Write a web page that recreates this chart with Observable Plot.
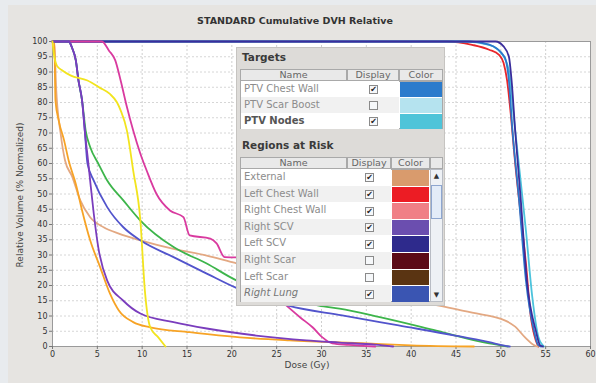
<!DOCTYPE html>
<html>
<head>
<meta charset="utf-8">
<script src="https://cdn.jsdelivr.net/npm/d3@7"></script>
<script src="https://cdn.jsdelivr.net/npm/@observablehq/plot@0.6"></script>
<style>
  html, body { margin: 0; padding: 0; background: #e8ebee; }
  #wrap { position: relative; width: 596px; height: 383px; overflow: hidden; font-family: "DejaVu Sans", sans-serif; }
  #panel { position: absolute; left: 8px; top: 5px; width: 588px; height: 378px; background: #e6e4e1; }
  #chart { position: absolute; left: 0; top: 0; }
  .abs { position: absolute; }
  #title { left: 195px; width: 200px; top: 15px; text-align: center; font-weight: bold; font-size: 9.5px; color: #333; white-space: nowrap; }
  #ylab { left: 20px; top: 195px; font-size: 9px; color: #444; white-space: nowrap; transform: translate(-50%, -50%) rotate(-90deg); }
  #xlab { left: 307px; top: 360px; font-size: 9px; color: #444; transform: translateX(-50%); white-space: nowrap; }
  #legend { left: 236px; top: 47px; width: 209px; height: 259px; background: #dddbd8; border: 1px solid #c6c4c1; box-sizing: border-box; }
  .sect { font-weight: bold; font-size: 10.5px; color: #3a3a3a; }
  .hdr { background: #e9e9e9; border: 1px solid #a9a9a9; box-sizing: border-box; font-size: 9.5px; color: #666; text-align: center; line-height: 10px; }
  .cell { box-sizing: border-box; font-size: 10px; color: #8c8c8c; white-space: nowrap; overflow: hidden; }
  .box { width: 9px; height: 9px; border: 1px solid #8a8a8a; background: #f6f8fa; box-sizing: border-box; font-size: 8px; line-height: 8px; text-align: center; color: #222; }
</style>
</head>
<body>
<div id="wrap">
  <div id="panel"></div>
  <div id="chart"></div>
  <div id="title" class="abs">STANDARD Cumulative DVH Relative</div>
  <div id="ylab" class="abs">Relative Volume (% Normalized)</div>
  <div id="xlab" class="abs">Dose (Gy)</div>
  <div id="legend" class="abs"></div>
</div>
<script>
// ---- tick labels ----
const xTicks = [0, 5, 10, 15, 20, 25, 30, 35, 40, 45, 50, 55, 60];
const yTicks = [0, 5, 10, 15, 20, 25, 30, 35, 40, 45, 50, 55, 60, 65, 70, 75, 80, 85, 90, 95, 100];

// ---- legend content ----
const targetNames = ["PTV Chest Wall", "PTV Scar Boost", "PTV Nodes"];
const targetShown = [true, false, true];
const targetColors = ["#2b7bcc", "#b5e3ef", "#4fc4d9"];
const riskNames = ["External", "Left Chest Wall", "Right Chest Wall", "Right SCV", "Left SCV", "Right Scar", "Left Scar", "Right Lung"];
const riskShown = [true, true, true, true, true, false, false, true];
const riskColors = ["#d99b6d", "#ec1c24", "#f07f86", "#6b4eaf", "#2e2a8c", "#5c0a16", "#5a3412", "#3a55b2"];

// ---- DVH curves (dose in Gy, volume in %) ----
const orangeDose = [0, 0.2, 0.33, 0.7, 1.3, 1.8, 2.6, 3.3, 4.2, 5.3, 6.4, 7.4, 9.0, 10.9, 15.3, 20.9, 26.4, 35, 40, 47];
const orangeVol  = [100, 100, 80.6, 74, 67.5, 61, 53.3, 44.6, 34.8, 26.1, 17.4, 11.8, 8.0, 6.3, 4.7, 3.0, 2.0, 1.0, 0.4, 0];

const tanDose = [0, 0.2, 0.4, 0.9, 1.4, 2.2, 3.1, 4.2, 5.7, 7.4, 9.8, 13.5, 17.2, 20.6, 25, 30, 35, 40, 43.1, 46.8, 50.5, 51.6, 52.7, 53.8, 54.1];
const tanVol  = [100, 100, 85, 70, 61, 55.7, 47.9, 42.4, 39.1, 37, 34.8, 32, 29.8, 27.2, 24.8, 22, 19, 15.3, 13.4, 11.1, 8.5, 6.5, 3, 0.3, 0];

const yellowDose = [0, 0.15, 0.5, 1.1, 2.0, 3.9, 5.3, 6.4, 7.2, 7.6, 8.3, 9.0, 9.8, 10.3, 10.9, 11.8, 12.6];
const yellowVol  = [100, 96, 92, 90.5, 88.9, 87.2, 84.8, 82.8, 80, 77.4, 70.8, 57.7, 41.3, 18.4, 6.3, 3, 0];

const magentaDose = [0, 5.5, 6.3, 7.0, 7.6, 8.3, 9.0, 9.8, 10.5, 11.6, 13.1, 14.6, 15.3, 17.6, 18.3, 19.2, 20.5, 22, 24, 26.1, 27.6, 29.0, 30.1, 31.2, 33, 36];
const magentaVol  = [100, 100, 97, 93.8, 87.2, 78.5, 70.8, 63.2, 57.7, 50, 44.6, 42.4, 36.4, 35.4, 33.8, 29.3, 29.2, 25, 19, 13.4, 9.6, 6.3, 3, 1, 0.5, 0];

const greenDose = [0, 1.8, 2.2, 2.6, 2.9, 3.3, 3.7, 4.2, 5.1, 6.1, 7.9, 9.8, 13.5, 17.2, 20.5, 25, 29.7, 32, 36.5, 42.8, 48.7, 50.8];
const greenVol  = [100, 100, 97.8, 93.8, 87.2, 80.6, 70.8, 65.4, 60, 54.4, 47.9, 41.3, 32.6, 27.2, 21.7, 17.5, 13.4, 12.4, 9.6, 5.2, 1, 0];

const lungDose = [0, 1.8, 2.2, 2.6, 2.9, 3.3, 3.6, 3.9, 4.6, 6.1, 7.9, 9.8, 13.5, 17.2, 20.5, 23.5, 26.3, 32.3, 38.6, 44.9, 48.7, 50.4, 51];
const lungVol  = [100, 100, 97.8, 93.8, 87.2, 80.6, 70.8, 60, 54.4, 45.7, 39.1, 34.8, 29.3, 23.9, 19.2, 16, 13.4, 10.2, 6.9, 3.6, 1.4, 0.3, 0];

const violetDose = [0, 1.8, 2.2, 2.6, 2.9, 3.3, 3.6, 4.0, 4.2, 4.6, 5.1, 6.1, 7.9, 9.8, 13.5, 17.2, 22.7, 28.3, 32, 36, 38];
const violetVol  = [100, 100, 97.8, 93.8, 87.2, 80.6, 70.8, 60, 54.4, 43.6, 32.6, 21.6, 15, 10.8, 8, 5.9, 3.6, 2, 1.3, 0.6, 0];

const redDose = [0, 44, 46.8, 48.7, 49.8, 50.3, 50.7, 51.1, 51.6, 52.2, 52.8, 53.3, 53.9, 54.2];
const redVol  = [100, 100, 98.9, 97.3, 95.6, 93, 87.2, 76.4, 60, 43.6, 27.2, 10.8, 2, 0];

const cyanDose = [0, 46, 48.7, 50.1, 50.9, 51.4, 52.0, 52.8, 53.5, 54.2, 54.8];
const cyanVol  = [100, 100, 98.9, 96, 90.5, 76.4, 60, 38, 16.4, 3, 0];

const blueDose = [0, 46.5, 48.7, 50.4, 50.9, 51.3, 52.0, 52.8, 53.7, 54.2, 54.5];
const blueVol  = [100, 100, 99, 95, 87.2, 70.8, 49.1, 21.6, 5.2, 0.3, 0];

const navyDose = [0, 48, 49.4, 50.3, 50.9, 51.2, 51.6, 52.2, 52.9, 53.9, 54.4, 54.7];
const navyVol  = [100, 100, 100, 98.4, 95, 87.2, 70.8, 49.1, 21.6, 5.2, 0.3, 0];

const curves = [
  {dose: redDose, vol: redVol, color: "#e8262b"},
  {dose: cyanDose, vol: cyanVol, color: "#4cc3dc"},
  {dose: blueDose, vol: blueVol, color: "#2b78cc"},
  {dose: navyDose, vol: navyVol, color: "#3a2d9c"},
  {dose: tanDose, vol: tanVol, color: "#e3a882"},
  {dose: orangeDose, vol: orangeVol, color: "#f7a325"},
  {dose: magentaDose, vol: magentaVol, color: "#d93a9f"},
  {dose: greenDose, vol: greenVol, color: "#3db54b"},
  {dose: lungDose, vol: lungVol, color: "#5254cc"},
  {dose: violetDose, vol: violetVol, color: "#7a3dbd"},
  {dose: yellowDose, vol: yellowVol, color: "#f2e41e"}
];

const lineMarks = curves.map(c =>
  Plot.line(c.dose.map((d, i) => ({dose: d, vol: c.vol[i]})),
    {x: "dose", y: "vol", stroke: c.color, strokeWidth: 1.8, curve: "monotone-x"})
);

const chart = Plot.plot({
  width: 596,
  height: 383,
  marginLeft: 52,
  marginRight: 6,
  marginTop: 41,
  marginBottom: 37,
  style: {background: "transparent", fontFamily: "DejaVu Sans", fontSize: "8px", color: "#333"},
  x: {domain: [0, 60]},
  y: {domain: [0, 100]},
  marks: [
    Plot.frame({fill: "white"}),
    Plot.gridX(xTicks, {stroke: "#cfcfcf", strokeOpacity: 1, strokeDasharray: "2,2"}),
    Plot.gridY(yTicks, {stroke: "#d6d6d6", strokeOpacity: 1, strokeDasharray: "2,2"}),
    Plot.frame({stroke: "#9a9a9a"}),
    Plot.axisX(xTicks, {tickSize: 3, tickPadding: 2, label: null, stroke: "#777", color: "#333"}),
    Plot.axisY(yTicks, {tickSize: 3, tickPadding: 2, label: null, stroke: "#777", color: "#333"}),
    ...lineMarks
  ]
});
document.getElementById("chart").appendChild(chart);

// ---- legend overlay ----
const legend = document.getElementById("legend");
const L = 236, T = 47;
function el(cls, x, y, w, h, html, style) {
  const d = document.createElement("div");
  d.className = "abs " + (cls || "");
  d.style.left = (x - L - 1) + "px";
  d.style.top = (y - T - 1) + "px";
  if (w != null) d.style.width = w + "px";
  if (h != null) d.style.height = h + "px";
  if (html != null) d.innerHTML = html;
  if (style) Object.assign(d.style, style);
  legend.appendChild(d);
  return d;
}
function table(x0, y0, colW, rowH, names, shown, colors, withScroll, hdrH, styles) {
  const cols = ["Name", "Display", "Color"];
  let x = x0;
  cols.forEach((c, i) => { el("hdr", x, y0, colW[i], hdrH, c); x += colW[i]; });
  const totalW = colW.reduce((a, b) => a + b, 0);
  if (withScroll) el("hdr", x, y0, 13, hdrH, "");
  const bodyTop = y0 + hdrH;
  el("", x0, bodyTop, totalW + (withScroll ? 13 : 0), rowH * names.length, null, {background: "#fff", border: "1px solid #a9a9a9", boxSizing: "border-box"});
  names.forEach((n, i) => {
    const y = bodyTop + i * rowH;
    const bg = i % 2 ? "#f1f1f1" : "#ffffff";
    el("cell", x0 + 1, y, colW[0] + colW[1] - 1, rowH, null, {background: bg});
    const t = el("cell", x0 + 4, y, colW[0] - 4, rowH, n, {lineHeight: rowH + "px"});
    if (styles && styles[i]) Object.assign(t.style, styles[i]);
    el("box", x0 + colW[0] + colW[1] / 2 - 4, y + rowH / 2 - 4, null, null, shown[i] ? "&#10004;" : "");
    el("", x0 + colW[0] + colW[1] + 1, y + 1, colW[2] - 2, rowH - 1, null, {background: colors[i]});
  });
  if (withScroll) {
    const sx = x0 + totalW;
    const H = rowH * names.length;
    el("", sx, bodyTop, 13, H, null, {background: "#eef1f5", border: "1px solid #b8bcc4", boxSizing: "border-box"});
    el("", sx, bodyTop + 2, 13, 10, "&#9650;", {fontSize: "7px", textAlign: "center", color: "#333", lineHeight: "10px"});
    el("", sx + 1, bodyTop + 16, 11, 34, null, {background: "#e3ecf8", border: "1px solid #8ea6cf", boxSizing: "border-box"});
    el("", sx, bodyTop + H - 12, 13, 10, "&#9660;", {fontSize: "7px", textAlign: "center", color: "#333", lineHeight: "10px"});
  }
}
el("sect", 242, 51, 150, 13, "Targets");
table(240, 69, [107, 52, 44], 16, targetNames, targetShown, targetColors, false, 12,
  [null, null, {fontWeight: "bold", color: "#555"}]);
el("sect", 242, 139, 150, 13, "Regions at Risk");
table(240, 157, [107, 44, 39], 16.6, riskNames, riskShown, riskColors, true, 12,
  [null, null, null, null, null, null, null, {fontStyle: "italic", color: "#777"}]);
</script>
</body>
</html>
